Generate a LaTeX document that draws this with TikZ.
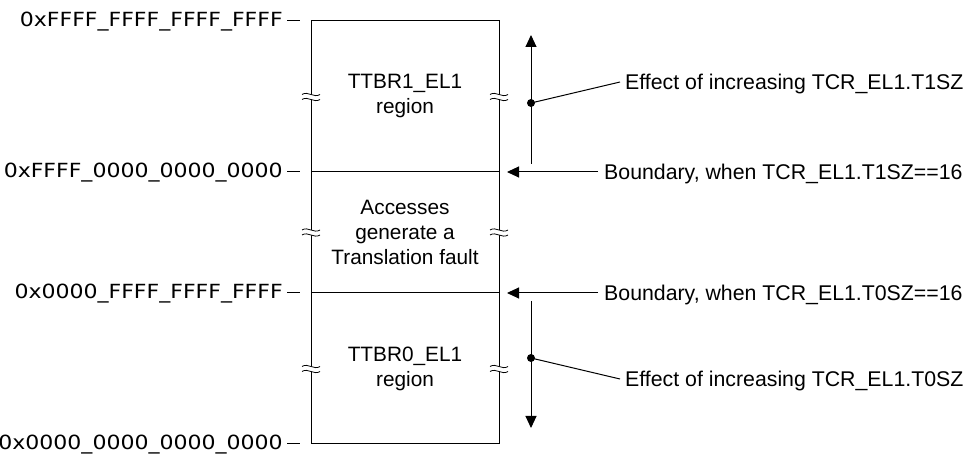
\documentclass[tikz,border=0pt]{standalone}
\usepackage{fontspec}
\setmainfont{Liberation Sans}
\newfontfamily\hexfont[FakeStretch=1.13]{DejaVu Sans}
\usetikzlibrary{arrows.meta,positioning}

\begin{document}
\begin{tikzpicture}[
        x=1pt,
        y=-1pt,
        wire/.style={line width=1pt},
        region/.style={draw, line width=1pt, minimum width=188pt, inner sep=0pt, outer sep=0pt,
            align=center, font=\fontsize{20.8}{25}\selectfont},
        addr/.style={anchor=east, inner sep=0pt, text height=14.2pt, text depth=0pt, yshift=1.5pt,
            font=\hexfont\fontsize{19.5}{24}\selectfont},
        note/.style={anchor=west, inner sep=0pt, text height=15.2pt, text depth=0pt,
            font=\fontsize{21.3}{25}\selectfont},
        arr/.style={wire, -{Triangle[length=12pt, width=11pt]}},
        dot/.style={circle, fill=black, inner sep=0pt, minimum size=8pt},
        brk/.style={line width=0.8pt}
    ]
    \useasboundingbox (0,0) rectangle (978,454);

    % address space
    \node[region, minimum height=151pt] (ttbr1) at (405,96.5) {TTBR1\_EL1\\region};
    \node[region, minimum height=121pt, below=0pt of ttbr1] (fault) {Accesses\\generate a\\Translation fault};
    \node[region, minimum height=151pt, below=0pt of fault] (ttbr0) {TTBR0\_EL1\\region};

    % breaks in the sides
    \foreach \y in {97,232.5,369}{
        \foreach \x in {311,499}{
            \fill[white] (\x-9,\y-2.5) .. controls (\x-3,\y-6.5) and (\x+3,\y+1.5) .. (\x+9,\y-2.5)
                -- (\x+9,\y+2.5) .. controls (\x+3,\y+6.5) and (\x-3,\y-1.5) .. (\x-9,\y+2.5) -- cycle;
            \draw[brk] (\x-9,\y-2.5) .. controls (\x-3,\y-6.5) and (\x+3,\y+1.5) .. (\x+9,\y-2.5);
            \draw[brk] (\x-9,\y+2.5) .. controls (\x-3,\y-1.5) and (\x+3,\y+6.5) .. (\x+9,\y+2.5);
        }
    }

    % addresses
    \node[addr, left=28pt of ttbr1.north west] (amax) {0xFFFF\_FFFF\_FFFF\_FFFF};
    \node[addr, left=28pt of ttbr1.south west] (ahi) {0xFFFF\_0000\_0000\_0000};
    \node[addr, left=28pt of fault.south west] (alo) {0x0000\_FFFF\_FFFF\_FFFF};
    \node[addr, left=28pt of ttbr0.south west] (amin) {0x0000\_0000\_0000\_0000};
    \draw[wire] ([xshift=4pt,yshift=-1.5pt]amax.east) -- ([xshift=-11pt]ttbr1.north west);
    \draw[wire] ([xshift=4pt,yshift=-1.5pt]ahi.east) -- ([xshift=-11pt]ttbr1.south west);
    \draw[wire] ([xshift=4pt,yshift=-1.5pt]alo.east) -- ([xshift=-11pt]fault.south west);
    \draw[wire] ([xshift=4pt,yshift=-1.5pt]amin.east) -- ([xshift=-11pt]ttbr0.south west);

    % boundaries
    \node[note, right=105pt of ttbr1.south east] (bnd1) {Boundary, when TCR\_EL1.T1SZ==16};
    \node[note, right=105pt of fault.south east] (bnd0) {Boundary, when TCR\_EL1.T0SZ==16};
    \draw[arr] ([xshift=-6pt]bnd1.west) -- ([xshift=8pt]ttbr1.south east);
    \draw[arr] ([xshift=-6pt]bnd0.west) -- ([xshift=8pt]fault.south east);

    % effect of increasing TxSZ
    \coordinate (up1) at (531,164);
    \coordinate (tip1) at (531,35);
    \coordinate (up0) at (531,301);
    \coordinate (tip0) at (531,428);
    \node[dot] (d1) at (531,103) {};
    \node[dot] (d0) at (531,358) {};
    \node[note] (eff1) at (625,82) {Effect of increasing TCR\_EL1.T1SZ};
    \node[note] (eff0) at (625,379) {Effect of increasing TCR\_EL1.T0SZ};
    \draw[arr] (up1) -- (tip1);
    \draw[arr] (up0) -- (tip0);
    \draw[wire] (d1.center) -- ([xshift=-5pt]eff1.west);
    \draw[wire] (d0.center) -- ([xshift=-5pt]eff0.west);
\end{tikzpicture}
\end{document}
